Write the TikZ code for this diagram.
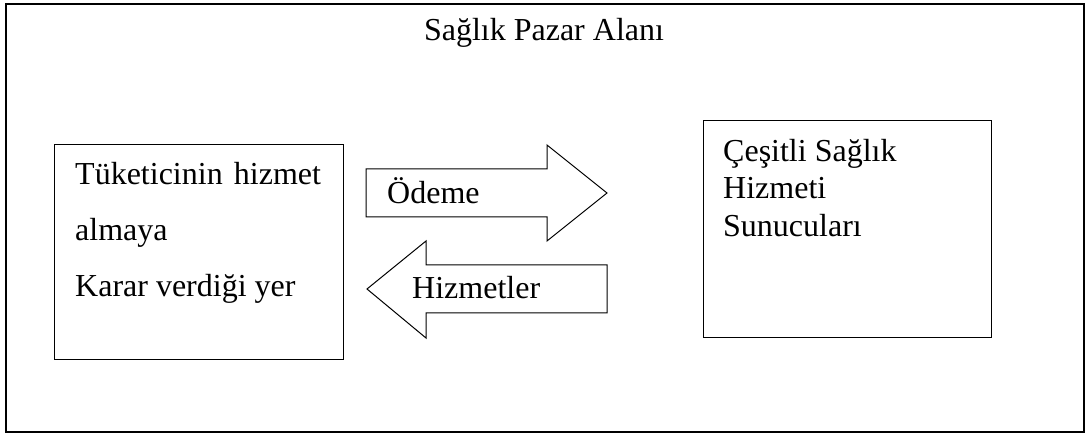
\documentclass[tikz,border=0pt]{standalone}
\usepackage{fontspec}
\setmainfont{Liberation Serif}
\begin{document}
\begin{tikzpicture}[x=1pt,y=-1pt,
  frame/.style={draw=black,line width=1pt},
  outerframe/.style={draw=black,line width=1.8pt},
  label/.style={inner sep=0pt,anchor=base west,font=\fontsize{32}{39}\selectfont}]
\useasboundingbox[fill=white] (0,0) rectangle (1088,435);
% market area
\draw[outerframe] (6,4) rectangle (1084,432);
\node[inner sep=0pt,anchor=base,font=\fontsize{32}{39}\selectfont] (title) at (544,41) {Sağlık Pazar Alanı};
% consumer side
\draw[frame] (54,145) rectangle (343,360);
\node[label] (c1) at (75,185) {Tüketicinin\hspace{0.35em}hizmet};
\node[label] (c2) at (75,241) {almaya};
\node[label] (c3) at (75,297) {Karar verdiği yer};
% providers
\draw[frame] (703,121) rectangle (991,338);
\node[label] (p1) at (723,162) {Çeşitli Sağlık};
\node[label] (p2) at (723,199) {Hizmeti};
\node[label] (p3) at (723,237) {Sunucuları};
% payment arrow
\draw[frame,line join=miter] (366,169) -- (547,169) -- (547,145) -- (607,193) -- (547,241) -- (547,217) -- (366,217) -- cycle;
\node[label] (pay) at (387,204) {Ödeme};
% services arrow
\draw[frame,line join=miter] (607,265) -- (426,265) -- (426,241) -- (367,289) -- (426,338) -- (426,313) -- (607,313) -- cycle;
\node[label] (serv) at (412,299) {Hizmetler};
\end{tikzpicture}
\end{document}
